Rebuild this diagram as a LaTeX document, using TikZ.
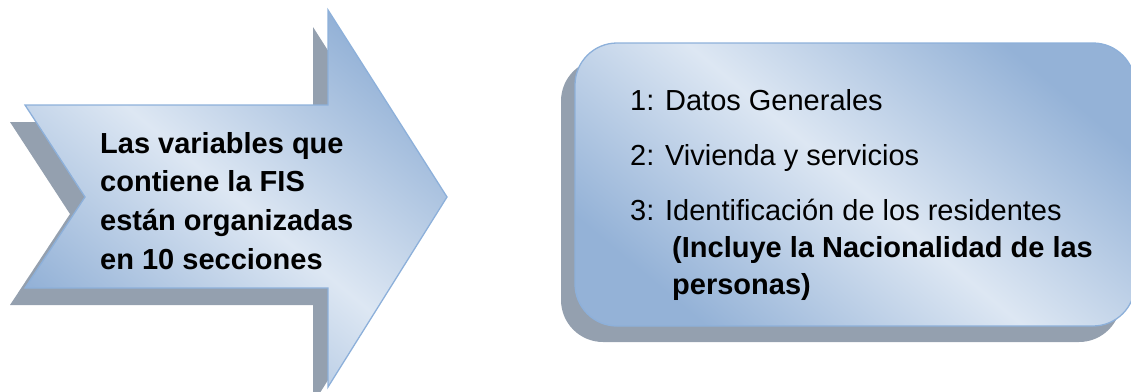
\documentclass[tikz,border=0pt]{standalone}
\usepackage{fontspec}
\setmainfont{Liberation Sans}
\usepackage{tikz}

\definecolor{paleblue}{RGB}{221,231,243}
\definecolor{deepblue}{RGB}{148,178,215}
\definecolor{edgeblue}{RGB}{141,176,218}
\definecolor{shadowgrey}{RGB}{148,160,175}

\begin{document}
\begin{tikzpicture}[x=1pt, y=-1pt,
        panel/.style={draw=edgeblue, line width=1.3pt, top color=deepblue, bottom color=deepblue, middle color=paleblue, shading angle=-40},
        backing/.style={fill=shadowgrey},
        bigtext/.style={inner sep=0pt, align=left, font=\fontsize{29}{38.7}\selectfont}]

        \useasboundingbox (0,0) rectangle (1131,391);

        % arrow
        \fill [backing, shift={(-15,17)}] (25,105) -- (328,105) -- (328,10) -- (447,197) -- (328,387) -- (328,288) -- (25,288) -- (85,197) -- cycle;
        \draw [panel] (25,105) -- (328,105) -- (328,10) -- (447,197) -- (328,387) -- (328,288) -- (25,288) -- (85,197) -- cycle;

        \node [bigtext, anchor=north west] (variables) at (100,132)
            {\bfseries Las variables que\\ \bfseries contiene la FIS\\ \bfseries están organizadas\\ \bfseries en 10 secciones};

        % box
        \fill [backing, rounded corners=42pt, shift={(-14,16)}] (575,43) rectangle (1135,326);
        \draw [panel, rounded corners=42pt] (575,43) rectangle (1135,326);

        \node [bigtext, anchor=north west, font=\fontsize{29}{37}\selectfont] (secciones) at (630,89)
            {1: Datos Generales\\[18pt]
             2: Vivienda y servicios\\[18pt]
             3: Identificación de los residentes\\
             \hspace*{42pt}\textbf{(Incluye la Nacionalidad de las}\\
             \hspace*{42pt}\textbf{personas)}};

    \end{tikzpicture}
\end{document}
